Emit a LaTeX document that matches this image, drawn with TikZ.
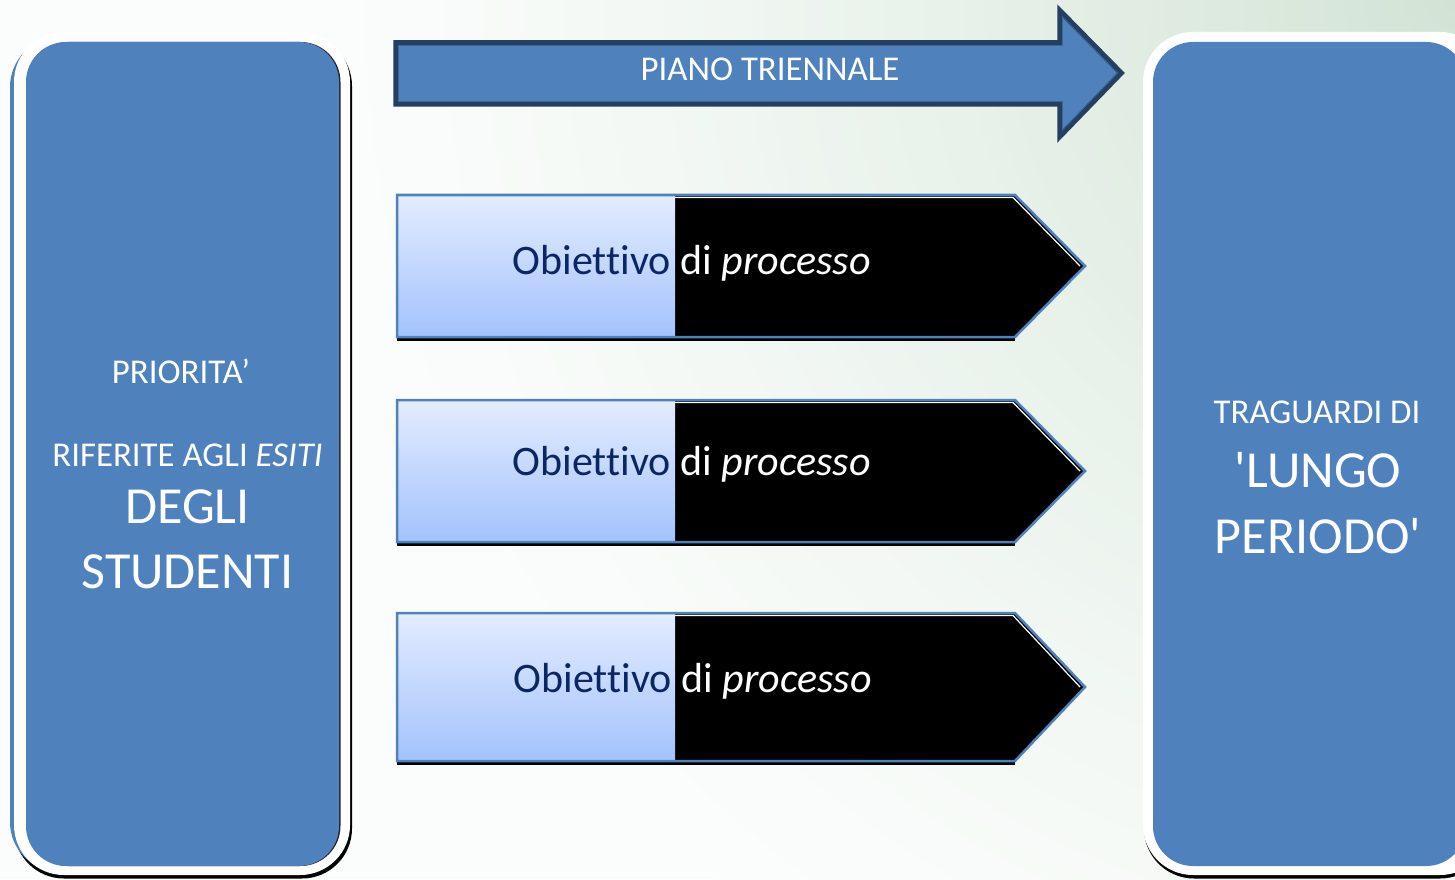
\documentclass[tikz,border=0pt]{standalone}
\usepackage{fontspec}
\setmainfont{Carlito}[Ligatures={TeXOff,CommonOff}]
\usetikzlibrary{calc}

\definecolor{boxblue}{HTML}{4F81BD}
\definecolor{arrowdark}{HTML}{243F60}
\definecolor{arrowline}{HTML}{3F6593}
\definecolor{objnavy}{RGB}{12,38,100}
\definecolor{lighttop}{HTML}{E3ECFF}
\definecolor{lightbot}{HTML}{A3C2FC}
\definecolor{glowc}{HTML}{D2E3D5}
\definecolor{paper}{HTML}{FBFDFC}

% one drawing unit
\newdimen\pxu \pxu=0.01cm

\tikzset{
  txtsmall/.style={text=white, inner sep=0pt, anchor=base, font=\fontsize{9.9pt}{12pt}\selectfont},
  txtbig/.style={text=white, inner sep=0pt, anchor=base, font=\fontsize{14.8pt}{17pt}\selectfont},
  txtobj/.style={text=white, inner sep=0pt, anchor=base west, font=\fontsize{11.95pt}{14pt}\selectfont},
  objframe/.style={draw=boxblue, line width=2.5\pxu, line join=miter},
  bigframe/.style={draw=arrowdark, line width=5.5\pxu, line join=miter},
}

% process arrow: #1 top, #2 bottom, #3 tip height
\newcommand\procarrow[3]{%
  \draw[black, line width=3\pxu] (397,#2+2) -- (1015,#2+2);
  \fill[black] (397,#1) -- (1015,#1) -- (1085,#3) -- (1015,#2) -- (397,#2) -- cycle;
  \shade[top color=lighttop, bottom color=lightbot] (397,#1) rectangle (675,#2);
  \draw[white, line width=1.2\pxu] (675,#1+2.5) -- (1013,#1+2.5) -- (1080,#3);
  \draw[objframe] (397,#1) -- (1015,#1) -- (1085,#3) -- (1015,#2) -- (397,#2) -- cycle;
}

\begin{document}
\begin{tikzpicture}[x=0.01cm, y=-0.01cm]
  \useasboundingbox (0,0) rectangle (1455,879);
  \clip (0,0) rectangle (1455,879);

  % background with a soft glow from the upper right corner
  \fill[paper] (0,0) rectangle (1455,879);
  \foreach \r in {1150,1130,...,10} {
    \pgfmathsetmacro\pct{100*(1-\r/1150)^1.3}
    \fill[glowc!\pct!paper] (1455,0) circle (\r);
  }

  % left panel
  \fill[black, rounded corners=50\pxu] (14,36) rectangle (352,878.5);
  \fill[boxblue, rounded corners=50\pxu] (10,37) rectangle (346,872);
  \fill[white, rounded corners=50\pxu] (14,32) rectangle (350,875);
  \fill[black!85, rounded corners=40\pxu] (28,42) rectangle (340.5,866);
  \fill[boxblue, rounded corners=40\pxu] (26,42) rectangle (339,866);

  % right panel
  \fill[black, rounded corners=50\pxu] (1144,36) rectangle (1490,878.5);
  \fill[white, rounded corners=50\pxu] (1143,32) rectangle (1490,875);
  \fill[boxblue, rounded corners=40\pxu] (1153,42) rectangle (1466,866);

  % three-year plan arrow
  \fill[boxblue] (396,43) -- (1060,43) -- (1060,11) -- (1121,73) -- (1060,136) -- (1060,104) -- (396,104) -- cycle;
  \draw[bigframe] (396,43) -- (1060,43) -- (1060,11) -- (1121,73) -- (1060,136) -- (1060,104) -- (396,104) -- cycle;
  \draw[arrowline, line width=0.8\pxu] (398.5,45.5) -- (1062.5,45.5) -- (1062.5,17) -- (1117.5,73) -- (1062.5,130) -- (1062.5,101.5) -- (398.5,101.5) -- cycle;

  % process objectives
  \procarrow{195}{337}{266}
  \procarrow{400}{542}{471}
  \procarrow{613}{761}{687}

  % texts
  \node[txtsmall] (piano) at (770,81) {PIANO TRIENNALE};

  \node[txtsmall] (prio) at (181,383) {PRIORITA’};
  \node[txtsmall] (rif) at (187.5,466) {RIFERITE AGLI \textit{ESITI}};
  \node[txtbig] (degli) at (187.5,523) {DEGLI};
  \node[txtbig] (stud) at (187.5,588) {STUDENTI};

  \node[txtsmall] (trag) at (1317,423) {TRAGUARDI DI};
  \node[txtbig] (lungo) at (1318,487) {'LUNGO};
  \node[txtbig] (periodo) at (1318,553) {PERIODO'};

  \node[txtobj] (obj1) at (512,274) {\textcolor{objnavy}{Obiettivo} di \textit{processo}};
  \node[txtobj] (obj2) at (512,475) {\textcolor{objnavy}{Obiettivo} di \textit{processo}};
  \node[txtobj] (obj3) at (513,692) {\textcolor{objnavy}{Obiettivo} di \textit{processo}};
\end{tikzpicture}
\end{document}
